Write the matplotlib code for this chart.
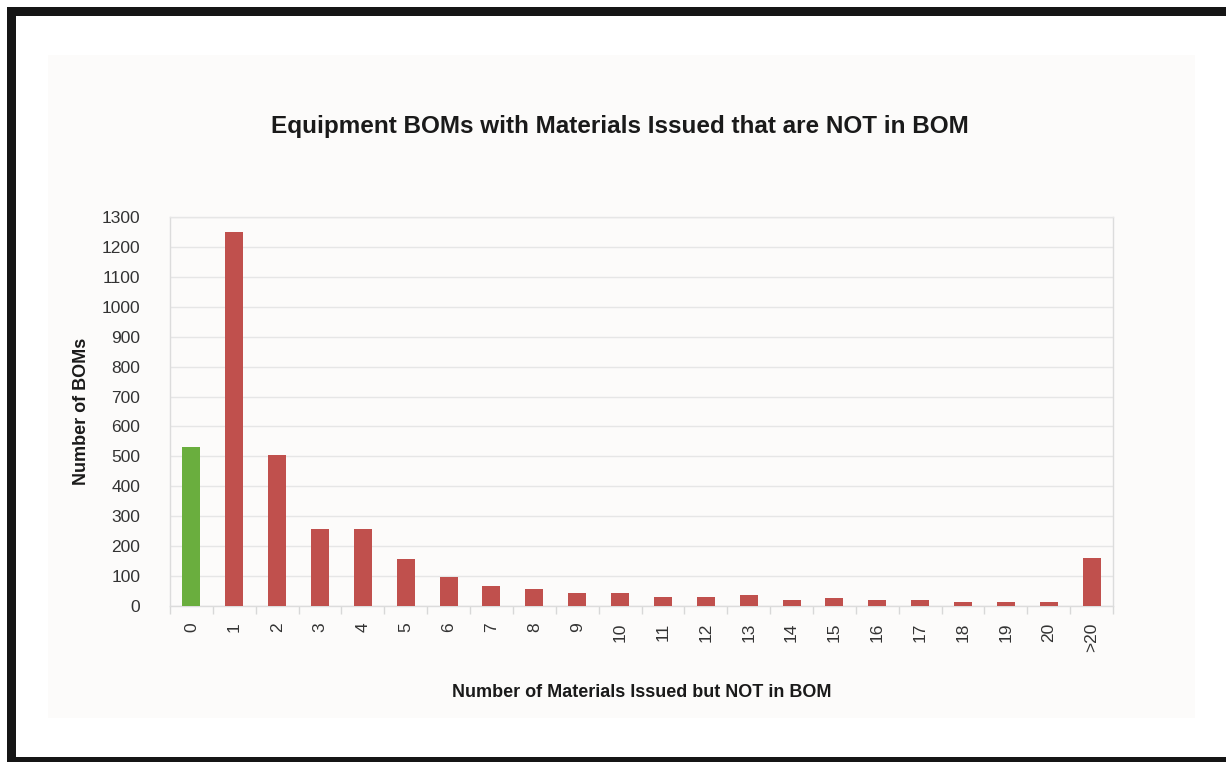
import matplotlib
matplotlib.use("Agg")
import matplotlib.pyplot as plt
from matplotlib.patches import Rectangle
from matplotlib import font_manager

# Data
categories = ["0", "1", "2", "3", "4", "5", "6", "7", "8", "9", "10",
              "11", "12", "13", "14", "15", "16", "17", "18", "19", "20", ">20"]
bom_counts = [530, 1250, 505, 258, 258, 156, 98, 66, 56, 45, 45,
              30, 30, 36, 20, 26, 20, 20, 15, 15, 15, 162]
y_ticks = list(range(0, 1301, 100))

title = "Equipment BOMs with Materials Issued that are NOT in BOM"
x_label = "Number of Materials Issued but NOT in BOM"
y_label = "Number of BOMs"

RED = "#c0504d"
GREEN = "#6aae3e"
GRID = "#e6e6e6"

installed = {f.name for f in font_manager.fontManager.ttflist}
family = ["Liberation Sans Narrow"] if "Liberation Sans Narrow" in installed else []
family += ["Liberation Sans", "DejaVu Sans"]
plt.rcParams["font.family"] = family

fig = plt.figure(figsize=(12.26, 7.62), dpi=100)
fig.patch.set_facecolor("white")
W, H = 1226, 762

def px_rect(x0, y0, x1, y1, color):
    fig.patches.append(Rectangle((x0 / W, 1 - y1 / H), (x1 - x0) / W, (y1 - y0) / H,
                                 transform=fig.transFigure, facecolor=color,
                                 edgecolor="none", zorder=-10))

# Frame around the figure
px_rect(7, 7, W, 16, "#151515")
px_rect(7, 7, 16, H, "#151515")
px_rect(7, 757, W, H, "#151515")
# Soft chart panel
px_rect(48, 55, 1195, 718, "#fcfbfa")

ax = fig.add_axes([170 / W, 1 - 606 / H, (1113 - 170) / W, (606 - 217) / H])
ax.set_facecolor("none")
ax.set_zorder(5)

x = list(range(len(categories)))
colors = [GREEN] + [RED] * (len(categories) - 1)
ax.bar(x, bom_counts, width=0.42, color=colors, zorder=3)

ax.set_xlim(-0.5, len(categories) - 0.5)
ax.set_ylim(0, 1300)
ax.set_yticks(y_ticks)
ax.set_yticklabels([str(v) for v in y_ticks], fontsize=12.5, color="#333333")
ax.set_xticks(x)
ax.set_xticklabels(categories, rotation=90, fontsize=12.5, color="#333333")
ax.set_xticks([i + 0.5 for i in range(-1, len(categories))], minor=True)
ax.tick_params(axis="x", which="major", length=0, pad=12)
ax.tick_params(axis="x", which="minor", length=6, color="#d8d8d8", width=1)
ax.tick_params(axis="y", length=0, pad=21.5)

ax.grid(axis="y", color=GRID, linewidth=1, zorder=0)
for side in ["top", "right", "left", "bottom"]:
    ax.spines[side].set_color("#dcdcdc")
    ax.spines[side].set_linewidth(1)
ax.spines["top"].set_color(GRID)

ax.set_ylabel(y_label, fontsize=13, fontweight="bold", color="#1a1a1a", labelpad=8)
ax.set_xlabel(x_label, fontsize=13, fontweight="bold", color="#1a1a1a", labelpad=23)
fig.text(620 / W, 1 - 127 / H, title, ha="center", va="center",
         fontsize=17.5, fontweight="bold", color="#1a1a1a", zorder=6)

fig.savefig("out.png", dpi=100)
